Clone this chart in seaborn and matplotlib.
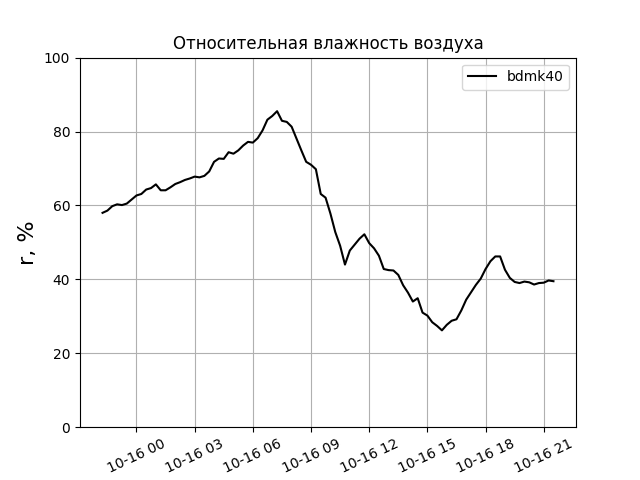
import matplotlib
matplotlib.use("Agg")
import matplotlib.pyplot as plt
import matplotlib.dates as mdates
import seaborn as sns
import pandas as pd

start_time = "2023-10-15 22:15"
step = "15min"
humidity = [
    58.0, 58.6, 59.8, 60.3, 60.1, 60.5, 61.6, 62.7, 63.1, 64.3,
    64.7, 65.7, 64.1, 64.1, 64.9, 65.8, 66.3, 66.9, 67.3, 67.8,
    67.6, 68.0, 69.2, 71.8, 72.7, 72.6, 74.4, 74.0, 74.9, 76.2,
    77.2, 77.0, 78.2, 80.3, 83.2, 84.2, 85.5, 82.9, 82.6, 81.3,
    78.1, 74.9, 71.8, 71.0, 69.8, 63.1, 62.1, 57.8, 52.8, 49.1,
    44.0, 47.8, 49.4, 51.0, 52.2, 49.8, 48.4, 46.4, 42.8, 42.5,
    42.4, 41.2, 38.4, 36.4, 34.0, 34.9, 31.0, 30.2, 28.4, 27.4,
    26.2, 27.7, 28.8, 29.2, 31.6, 34.5, 36.5, 38.5, 40.2, 42.8,
    44.9, 46.2, 46.2, 42.6, 40.4, 39.3, 39.0, 39.4, 39.2, 38.6,
    39.0, 39.1, 39.7, 39.5,
]
series_name = "bdmk40"
title = "Относительная влажность воздуха"
ylabel = "r, %"

times = pd.date_range(start_time, periods=len(humidity), freq=step)
df = pd.DataFrame({"time": times, "r": humidity})

fig, ax = plt.subplots(figsize=(6.4, 4.8), dpi=100)
sns.lineplot(data=df, x="time", y="r", ax=ax, color="black", linewidth=1.5, label=series_name)
ax.set_ylim(0, 100)
ax.set_yticks([0, 20, 40, 60, 80, 100])
ax.xaxis.set_major_locator(mdates.HourLocator(byhour=range(0, 24, 3)))
ax.xaxis.set_major_formatter(mdates.DateFormatter("%m-%d %H"))
plt.setp(ax.get_xticklabels(), rotation=25)
ax.grid(True)
ax.set_xlabel("")
ax.set_ylabel(ylabel, fontsize=16)
ax.set_title(title)
ax.legend(loc="upper right")
fig.savefig("out.png", dpi=100)
